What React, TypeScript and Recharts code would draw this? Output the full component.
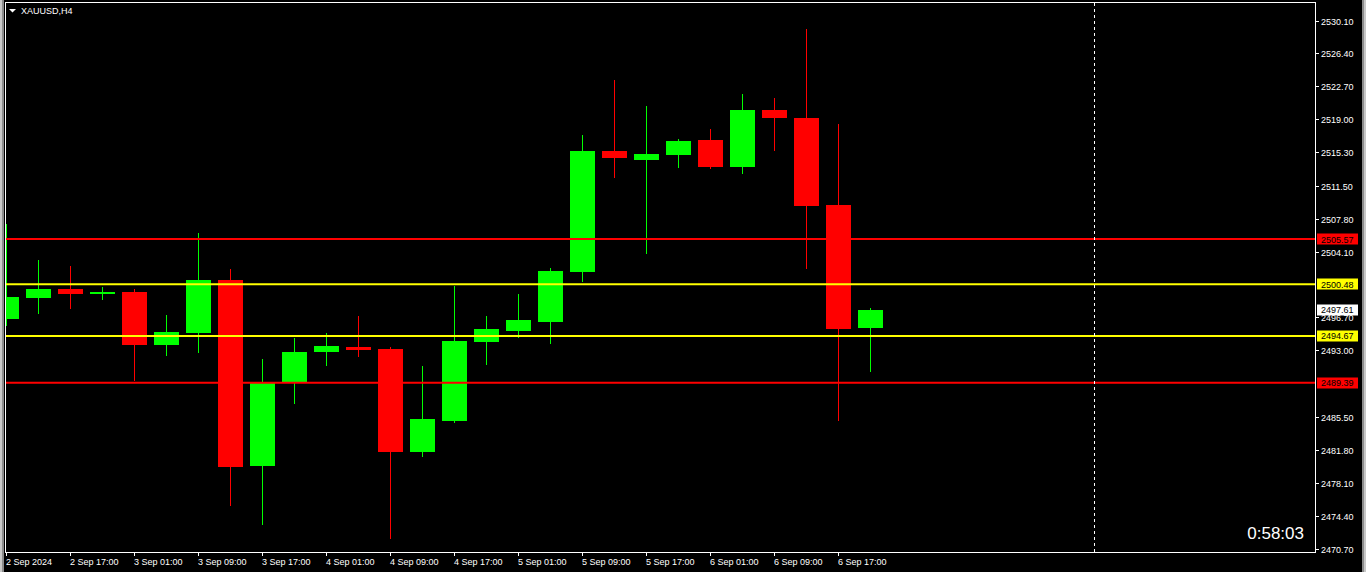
import React from 'react';
import { ComposedChart, Bar, XAxis, YAxis, ReferenceLine } from 'recharts';

// ---- data (XAUUSD, H4) ----
const times = [
  '2 Sep 09:00', '2 Sep 13:00', '2 Sep 17:00', '2 Sep 21:00',
  '3 Sep 01:00', '3 Sep 05:00', '3 Sep 09:00', '3 Sep 13:00', '3 Sep 17:00', '3 Sep 21:00',
  '4 Sep 01:00', '4 Sep 05:00', '4 Sep 09:00', '4 Sep 13:00', '4 Sep 17:00', '4 Sep 21:00',
  '5 Sep 01:00', '5 Sep 05:00', '5 Sep 09:00', '5 Sep 13:00', '5 Sep 17:00', '5 Sep 21:00',
  '6 Sep 01:00', '6 Sep 05:00', '6 Sep 09:00', '6 Sep 13:00', '6 Sep 17:00', '6 Sep 21:00',
];
const opens = [2496.54, 2498.94, 2499.95, 2499.39, 2499.65, 2493.65, 2495.0, 2500.96, 2480.04, 2489.37, 2492.86, 2493.43, 2493.2, 2481.61, 2485.13, 2494.02, 2495.26, 2496.27, 2501.9, 2515.47, 2514.5, 2515.06, 2516.71, 2513.71, 2520.09, 2519.19, 2509.4, 2495.6];
const highs = [2507.26, 2503.21, 2502.54, 2500.17, 2499.95, 2497.03, 2506.25, 2502.2, 2492.08, 2494.44, 2495.0, 2496.91, 2493.43, 2491.29, 2500.29, 2496.91, 2499.39, 2502.31, 2517.27, 2523.46, 2520.54, 2516.82, 2517.95, 2521.89, 2521.44, 2529.2, 2518.51, 2497.81];
const lows = [2495.79, 2497.14, 2497.7, 2498.71, 2489.6, 2492.41, 2492.75, 2475.57, 2473.4, 2487.01, 2491.29, 2492.3, 2471.83, 2481.05, 2484.91, 2491.4, 2494.47, 2493.8, 2500.77, 2512.47, 2503.92, 2513.6, 2513.45, 2512.89, 2515.47, 2502.23, 2485.13, 2490.65];
const closes = [2499.05, 2499.95, 2499.39, 2499.65, 2493.65, 2495.11, 2500.96, 2479.93, 2489.49, 2492.86, 2493.54, 2493.09, 2481.61, 2485.33, 2494.1, 2495.45, 2496.46, 2501.98, 2515.47, 2514.72, 2515.14, 2516.6, 2513.71, 2520.09, 2519.22, 2509.32, 2495.45, 2497.61];

const xTickIdx = [0, 2, 4, 6, 8, 10, 12, 14, 16, 18, 20, 22, 24, 26];
const xTickLabels = [
  '2 Sep 2024', '2 Sep 17:00', '3 Sep 01:00', '3 Sep 09:00', '3 Sep 17:00', '4 Sep 01:00', '4 Sep 09:00',
  '4 Sep 17:00', '5 Sep 01:00', '5 Sep 09:00', '5 Sep 17:00', '6 Sep 01:00', '6 Sep 09:00', '6 Sep 17:00',
];
const yTicks = [2530.1, 2526.4, 2522.7, 2519.0, 2515.3, 2511.5, 2507.8, 2504.1, 2496.7, 2493.0, 2485.5, 2481.8, 2478.1, 2474.4, 2470.7];

const levelPrices = [2505.57, 2500.48, 2494.67, 2489.39];
const levelColors = ['#ff0000', '#ffff00', '#ffff00', '#ff0000'];
const bidPrice = 2497.61;
const verticalLineSlot = 34;
const symbolTitle = 'XAUUSD,H4';
const timerText = '0:58:03';

const yDomain: [number, number] = [2470.3625, 2532.125];
const xDomain: [number, number] = [-0.015625, 40.890625];

const data = times.map((t, i) => ({
  i,
  t,
  open: opens[i],
  high: highs[i],
  low: lows[i],
  close: closes[i],
}));

const FONT = '"Liberation Sans", Arial, sans-serif';

const Candle = (props: any) => {
  const { x, y, width, height, payload } = props;
  if (payload == null || x == null) return null;
  const top = Math.min(y, y + height);
  const h = Math.abs(height);
  const { open, high, low, close } = payload;
  const k = h / (high - low);
  const yO = top + (high - open) * k;
  const yC = top + (high - close) * k;
  const bull = close >= open;
  const color = bull ? '#00ff00' : '#ff0000';
  const cx = x + width / 2;
  const bx = Math.round(cx - 12.5);
  const bTop = Math.round(Math.min(yO, yC));
  const bH = Math.max(1, Math.round(Math.max(yO, yC)) - bTop);
  return (
    <g>
      <rect x={bx + 12} y={Math.round(top)} width={1} height={Math.max(1, Math.round(h))} fill={color} />
      <rect x={bx} y={bTop} width={25} height={bH} fill={color} />
    </g>
  );
};

const XTick = (props: any) => {
  const { x, y, payload } = props;
  const idx = xTickIdx.indexOf(payload.value);
  const label = idx >= 0 ? xTickLabels[idx] : '';
  return (
    <text x={x - 0.5} y={y + 7} fill="#ffffff" fontSize={9} fontFamily={FONT} textAnchor="start">
      {label}
    </text>
  );
};

const YTick = (props: any) => {
  const { x, y, payload } = props;
  return (
    <text x={x} y={y + 3.5} fill="#ffffff" fontSize={9} fontFamily={FONT} textAnchor="start">
      {Number(payload.value).toFixed(2)}
    </text>
  );
};

const PriceTag = (props: any) => {
  const { viewBox, text, bg, fg } = props;
  if (!viewBox) return null;
  const { x, y, width } = viewBox;
  const bx = x + width + 2;
  return (
    <g>
      <rect x={bx} y={Math.round(y) - 5.5} width={41} height={11} fill={bg} />
      <text x={bx + 4} y={y + 3.5} fill={fg} fontSize={9} fontFamily={FONT} textAnchor="start">
        {text}
      </text>
    </g>
  );
};

export default function App() {
  return (
    <div
      style={{
        position: 'absolute',
        left: 0,
        top: 0,
        width: 1366,
        height: 572,
        background: '#000',
        overflow: 'hidden',
      }}
    >
      <div style={{ position: 'absolute', left: 0, top: 0, width: 2, height: 572, background: '#c8c8c8' }} />
      <div style={{ position: 'absolute', left: 2, top: 0, width: 2, height: 572, background: '#8c8c8c' }} />
      <div style={{ position: 'absolute', left: 1362, top: 0, width: 2, height: 572, background: '#8c8c8c' }} />
      <div style={{ position: 'absolute', left: 1364, top: 0, width: 2, height: 572, background: '#c8c8c8' }} />
      <div
        style={{
          position: 'absolute',
          left: 5,
          top: 2,
          width: 1311,
          height: 551,
          border: '1px solid #ffffff',
          boxSizing: 'border-box',
        }}
      />
      <div style={{ position: 'absolute', left: 0, top: 0 }}>
        <ComposedChart width={1366} height={572} data={data} margin={{ top: 3, right: 0, bottom: 0, left: 6 }}>
          <XAxis
            type="number"
            dataKey="i"
            domain={xDomain}
            allowDataOverflow
            ticks={xTickIdx}
            interval={0}
            height={20}
            tickSize={4}
            tickMargin={2}
            axisLine={false}
            tickLine={{ stroke: '#ffffff', shapeRendering: 'crispEdges' }}
            tick={<XTick />}
          />
          <YAxis
            type="number"
            orientation="right"
            domain={yDomain}
            allowDataOverflow
            ticks={yTicks}
            interval={0}
            width={51}
            tickSize={4}
            tickMargin={2}
            axisLine={false}
            tickLine={{ stroke: '#ffffff', shapeRendering: 'crispEdges' }}
            tick={<YTick />}
          />
          {levelPrices.map((p, k) => (
            <ReferenceLine key={'lv' + k} y={p} stroke={levelColors[k]} strokeWidth={2} />
          ))}
          <ReferenceLine x={verticalLineSlot} stroke="#ffffff" strokeDasharray="3 3" shapeRendering="crispEdges" />
          <Bar
            dataKey={(d: any) => [d.low, d.high]}
            barSize={25}
            isAnimationActive={false}
            shape={(p: any) => <Candle {...p} />}
          />
          {levelPrices.map((p, k) => (
            <ReferenceLine
              key={'tag' + k}
              y={p}
              stroke="none"
              strokeOpacity={0}
              label={<PriceTag text={p.toFixed(2)} bg={levelColors[k]} fg="#000000" />}
            />
          ))}
          <ReferenceLine
            y={bidPrice}
            stroke="none"
            strokeOpacity={0}
            label={<PriceTag text={bidPrice.toFixed(2)} bg="#ffffff" fg="#000000" />}
          />
        </ComposedChart>
      </div>
      <svg width={1366} height={572} style={{ position: 'absolute', left: 0, top: 0, pointerEvents: 'none' }}>
        <polygon points="9,9 16,9 12.5,12.5" fill="#ffffff" />
        <text x={21} y={14} fill="#ffffff" fontSize={9} fontFamily={FONT}>
          {symbolTitle}
        </text>
        <text x={1304} y={539} fill="#ffffff" fontSize={17} fontFamily={FONT} textAnchor="end">
          {timerText}
        </text>
      </svg>
    </div>
  );
}
